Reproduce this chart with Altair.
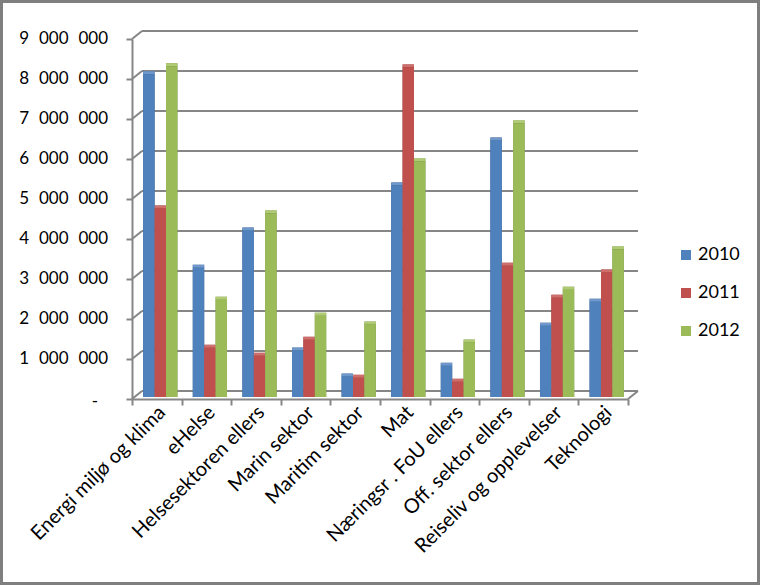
import altair as alt
import pandas as pd

categories = [
    "Energi miljø og klima", "eHelse", "Helsesektoren ellers", "Marin sektor",
    "Maritim sektor", "Mat", "Næringsr . FoU ellers", "Off. sektor ellers",
    "Reiseliv og opplevelser", "Teknologi",
]
years = ["2010", "2011", "2012"]
v2010 = [8070000, 3230000, 4160000, 1160000, 510000, 5290000, 780000, 6410000, 1780000, 2380000]
v2011 = [4710000, 1230000, 1030000, 1430000, 480000, 8240000, 380000, 3280000, 2480000, 3110000]
v2012 = [8270000, 2430000, 4590000, 2030000, 1810000, 5890000, 1360000, 6840000, 2680000, 3690000]
y_ticks = [0, 1000000, 2000000, 3000000, 4000000, 5000000, 6000000, 7000000, 8000000, 9000000]
y_labels = ["-"] + [f"{v:,}".replace(",", "\u2007") for v in y_ticks[1:]]

front_colors = ["#4F81BD", "#C0504D", "#9BBB59"]
side_colors = ["#35577F", "#8A3533", "#6B843A"]
top_colors = ["#6F98CC", "#CF6F6C", "#AFCB73"]

rows = []
for i, c in enumerate(categories):
    for yr, vals, sc, tc in zip(years, [v2010, v2011, v2012], side_colors, top_colors):
        rows.append({"cat": c, "year": yr, "value": vals[i], "side": sc, "top": tc})
df = pd.DataFrame(rows)
grid_df = pd.DataFrame({"v": y_ticks, "label": y_labels})
one_df = pd.DataFrame({"a": [0]})

W, H = 496, 360
DX, DY = 10, -8
GRID = "#868686"
FONT = "Lato"

yscale = alt.Scale(domain=[0, 9000000], nice=False)
xbar_scale = alt.Scale(domain=categories, paddingInner=0.31, paddingOuter=0.155,
                       range=[3.5, W + 3.5])
xaxis_scale = alt.Scale(domain=categories, paddingInner=0, paddingOuter=0)

yaxis = alt.Axis(
    values=y_ticks, title=None, grid=False, labels=False,
    tickSize=6, tickColor=GRID, tickWidth=2, domainColor=GRID, domainWidth=2,
)

border = alt.Chart(one_df).mark_rect(fillOpacity=0, stroke="#7f7f7f", strokeWidth=3).encode(
    x=alt.value(-130.5), x2=alt.value(626.5), y=alt.value(-37.5), y2=alt.value(544.5)
)

back_grid = alt.Chart(grid_df).mark_rule(color=GRID, strokeWidth=2, yOffset=DY).encode(
    y=alt.Y("v:Q", scale=yscale, axis=yaxis),
    x=alt.value(DX), x2=alt.value(W + DX),
)

wall = alt.Chart(grid_df).mark_rule(color=GRID, strokeWidth=2, y2Offset=DY).encode(
    y=alt.Y("v:Q", scale=yscale, axis=yaxis), y2="v:Q",
    x=alt.value(0), x2=alt.value(DX),
)

ylabels = alt.Chart(grid_df).transform_filter("datum.v > 0").mark_text(
    align="right", baseline="middle", dx=-24, font=FONT, fontSize=17, color="black"
).encode(
    y=alt.Y("v:Q", scale=yscale, axis=yaxis),
    x=alt.value(0),
    text="label:N",
)

zerolabel = alt.Chart(grid_df).transform_filter("datum.v == 0").mark_text(
    align="right", baseline="middle", dx=-34, dy=3, font=FONT, fontSize=17, color="black"
).encode(
    y=alt.Y("v:Q", scale=yscale, axis=yaxis),
    x=alt.value(0),
    text="label:N",
)

floor_edge = alt.Chart(one_df).mark_rule(color=GRID, strokeWidth=2, y2Offset=DY).encode(
    y=alt.Y(datum=0, scale=yscale, axis=yaxis), y2=alt.datum(0),
    x=alt.value(W), x2=alt.value(W + DX),
)

axis_layer = alt.Chart(df).mark_point(opacity=0).encode(
    x=alt.X("cat:N", scale=xaxis_scale, sort=categories, axis=alt.Axis(
        orient="bottom", title=None, labelAngle=-45, labelAlign="right", labelBaseline="middle",
        labelFont=FONT, labelFontSize=20, labelColor="black", labelPadding=4, labelOffset=5,
        labelOverlap=False, labelBound=False, labelLimit=400,
        tickBand="extent", tickSize=6, tickColor=GRID, tickWidth=2,
        domainColor=GRID, domainWidth=2,
    )),
    y=alt.Y(datum=0, scale=yscale, axis=yaxis),
)

xb = alt.X("cat:N", scale=xbar_scale, sort=categories, axis=None)
xo = alt.XOffset("year:N", sort=years)

shadow = alt.Chart(df).mark_bar(xOffset=3, x2Offset=3, yOffset=-5, y2Offset=-2).encode(
    x=xb, xOffset=xo,
    y=alt.Y("value:Q", scale=yscale, axis=yaxis),
    y2=alt.datum(0),
    color=alt.Color("side:N", scale=None),
)

topface = alt.Chart(df).mark_bar(xOffset=1.5, x2Offset=1.5, yOffset=-5, y2Offset=-2).encode(
    x=xb, xOffset=xo,
    y=alt.Y("value:Q", scale=yscale, axis=yaxis),
    y2="value:Q",
    color=alt.Color("top:N", scale=None),
)

front = alt.Chart(df).mark_bar(yOffset=-2, y2Offset=-2).encode(
    x=xb, xOffset=xo,
    y=alt.Y("value:Q", scale=yscale, axis=yaxis),
    y2=alt.datum(0),
    color=alt.Color("year:N", scale=alt.Scale(domain=years, range=front_colors),
                    legend=alt.Legend(
                        title=None, orient="none", legendX=545, legendY=207,
                        symbolType="square", symbolSize=100, symbolStrokeWidth=0,
                        labelFont=FONT, labelFontSize=18, labelColor="black",
                        rowPadding=20, padding=0, labelOffset=3,
                    )),
)

chart = alt.layer(
    border, back_grid, wall, ylabels, zerolabel, floor_edge, axis_layer, shadow, topface, front
).resolve_scale(x="independent").properties(
    width=W, height=H,
    padding={"left": 132, "top": 39, "right": 132, "bottom": 186},
    autosize=alt.AutoSizeParams(type="none"),
    background="white",
).configure_view(stroke=None)

chart.save("out.html", embed_options={"renderer": "svg", "actions": False})
